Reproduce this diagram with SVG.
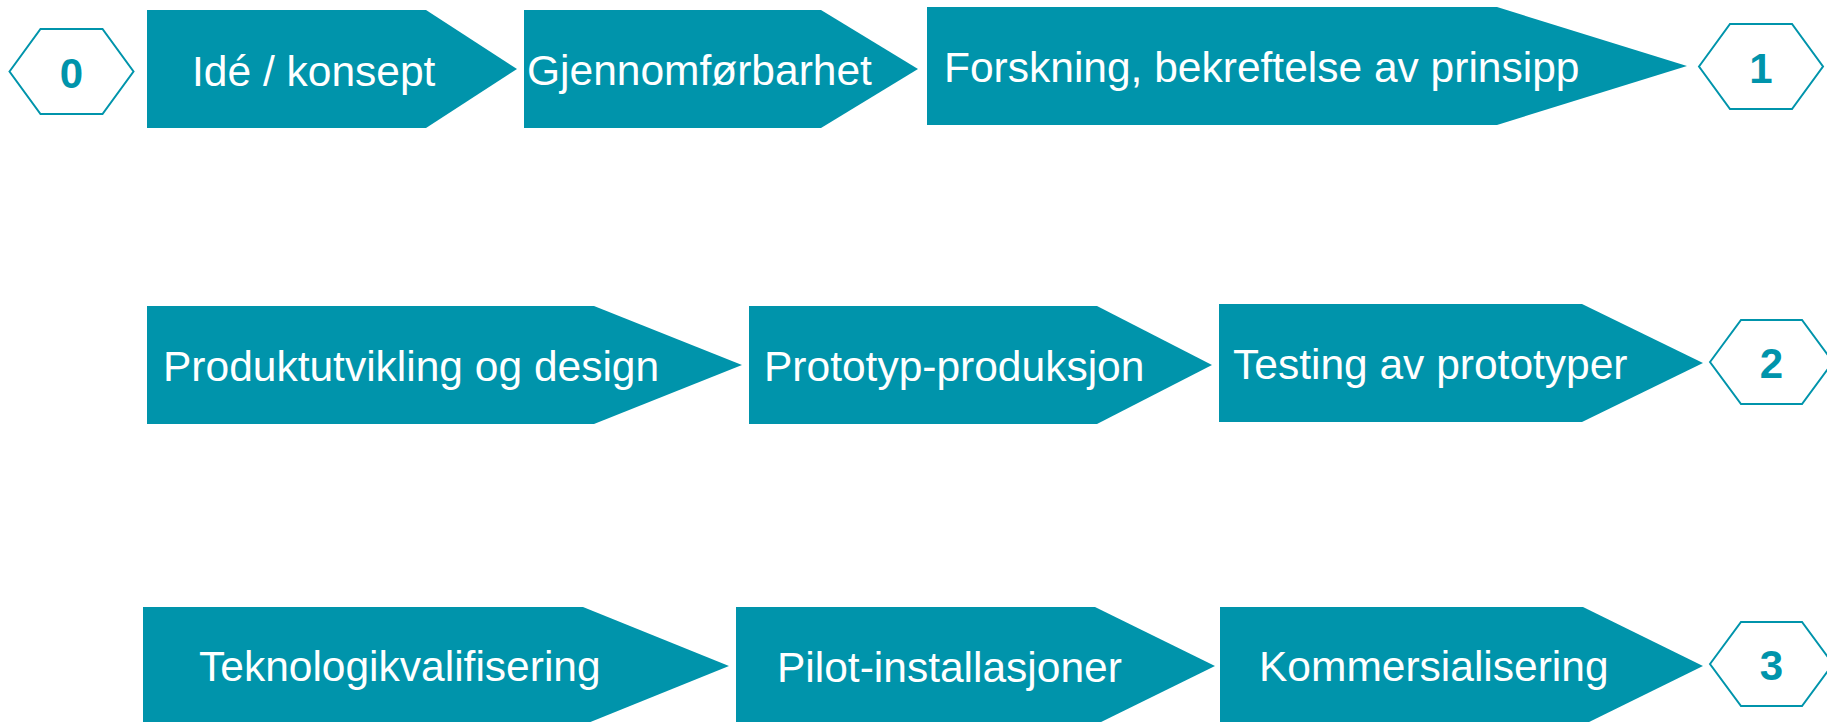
<svg xmlns="http://www.w3.org/2000/svg" width="1827" height="722" viewBox="0 0 1827 722">
<style>
.step{fill:#0094AB;}
.lbl{font-family:"Liberation Sans",Arial,sans-serif;font-size:42.5px;fill:#ffffff;}
.hex{fill:#ffffff;stroke:#0094AB;stroke-width:2;}
.num{font-family:"Liberation Sans",Arial,sans-serif;font-size:42px;font-weight:bold;fill:#0094AB;text-anchor:middle;}
</style>
<rect width="1827" height="722" fill="#ffffff"/>
<g id="connectors"/>
<g id="milestone-0">
<polygon class="hex" points="9.5,71.5 40.5,29 102.5,29 133.5,71.5 102.5,114 40.5,114"/>
<text class="num" x="71.5" y="87.5">0</text>
</g>
<g id="step-ide">
<polygon class="step" points="147,10 426,10 517,69 426,128 147,128"/>
<text class="lbl" x="192" y="86">Idé / konsept</text>
</g>
<g id="step-gjennomforbarhet">
<polygon class="step" points="524,10 821,10 918,69 821,128 524,128"/>
<text class="lbl" x="527" y="85">Gjennomførbarhet</text>
</g>
<g id="step-forskning">
<polygon class="step" points="927,7 1497,7 1687,66 1497,125 927,125"/>
<text class="lbl" x="944" y="82">Forskning, bekreftelse av prinsipp</text>
</g>
<g id="milestone-1">
<polygon class="hex" points="1699,66.5 1730,24 1792,24 1823,66.5 1792,109 1730,109"/>
<text class="num" x="1761" y="82.5">1</text>
</g>
<g id="step-produktutvikling">
<polygon class="step" points="147,306 594,306 742,365 594,424 147,424"/>
<text class="lbl" x="163" y="381">Produktutvikling og design</text>
</g>
<g id="step-prototyp-produksjon">
<polygon class="step" points="749,306 1097,306 1212,365 1097,424 749,424"/>
<text class="lbl" x="764" y="381">Prototyp-produksjon</text>
</g>
<g id="step-testing">
<polygon class="step" points="1219,304 1582,304 1703,363 1582,422 1219,422"/>
<text class="lbl" x="1233" y="379">Testing av prototyper</text>
</g>
<g id="milestone-2">
<polygon class="hex" points="1710,362 1741,320 1802,320 1833,362 1802,404 1741,404"/>
<text class="num" x="1771.5" y="378">2</text>
</g>
<g id="step-teknologikvalifisering">
<polygon class="step" points="143,607 583,607 729,666 583,725 143,725"/>
<text class="lbl" x="199" y="681">Teknologikvalifisering</text>
</g>
<g id="step-pilot">
<polygon class="step" points="736,607 1095,607 1215,666 1095,725 736,725"/>
<text class="lbl" x="777" y="682">Pilot-installasjoner</text>
</g>
<g id="step-kommersialisering">
<polygon class="step" points="1220,607 1583,607 1703,666 1583,725 1220,725"/>
<text class="lbl" x="1259" y="681">Kommersialisering</text>
</g>
<g id="milestone-3">
<polygon class="hex" points="1710,664 1741,622 1802,622 1833,664 1802,706 1741,706"/>
<text class="num" x="1771.5" y="680">3</text>
</g>
</svg>
